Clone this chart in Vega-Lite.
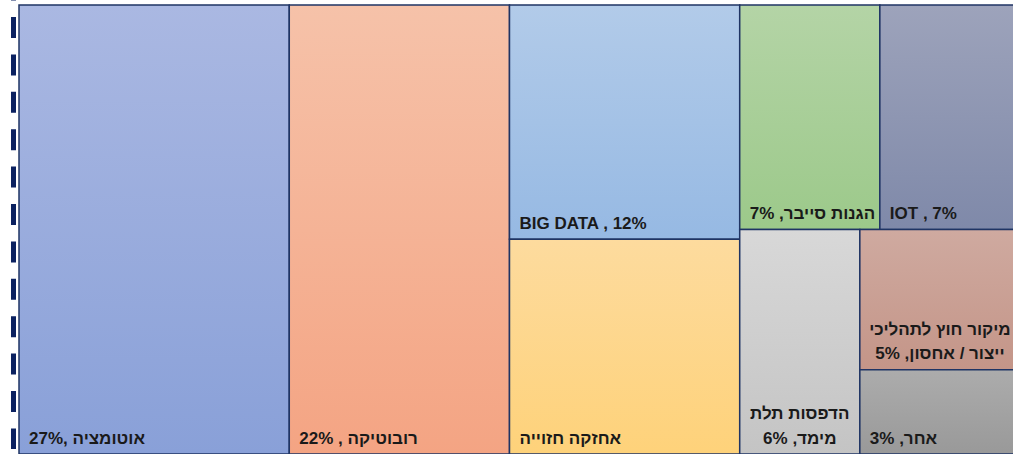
{
  "$schema": "https://vega.github.io/schema/vega-lite/v6.json",
  "width": 1001,
  "height": 449,
  "autosize": {"type": "none"},
  "padding": {"left": 19, "top": 5, "right": 0, "bottom": 0},
  "background": "white",
  "config": {"view": {"stroke": null}},
  "layer": [
    {
      "data": {"values": [{"line": "frame"}]},
      "mark": {"type": "rule", "stroke": "#0b2160", "strokeWidth": 5, "strokeDash": [21, 16.4]},
      "encoding": {
        "x": {"datum": -0.55, "type": "quantitative", "scale": {"domain": [0, 100]}, "axis": null},
        "y": {"datum": -5.66, "type": "quantitative", "scale": {"domain": [0, 100], "reverse": true}, "axis": null},
        "y2": {"datum": 98.9}
      }
    },
    {
      "data": {"name": "tree"},
      "transform": [
        {"joinaggregate": [{"op": "sum", "field": "value", "as": "T"}]},
        {"joinaggregate": [{"op": "sum", "field": "value", "as": "S1"}], "groupby": ["g1"]},
        {"window": [{"op": "sum", "field": "value", "as": "C1"}], "sort": [{"field": "g1"}, {"field": "g2"}, {"field": "g3"}, {"field": "g4"}], "frame": [null, 0]},
        {"joinaggregate": [{"op": "max", "field": "C1", "as": "E1"}], "groupby": ["g1"]},
        {"joinaggregate": [{"op": "sum", "field": "value", "as": "S2"}], "groupby": ["g1", "g2"]},
        {"window": [{"op": "sum", "field": "value", "as": "C2"}], "groupby": ["g1"], "sort": [{"field": "g2"}, {"field": "g3"}, {"field": "g4"}], "frame": [null, 0]},
        {"joinaggregate": [{"op": "max", "field": "C2", "as": "E2"}], "groupby": ["g1", "g2"]},
        {"joinaggregate": [{"op": "sum", "field": "value", "as": "S3"}], "groupby": ["g1", "g2", "g3"]},
        {"window": [{"op": "sum", "field": "value", "as": "C3"}], "groupby": ["g1", "g2"], "sort": [{"field": "g3"}, {"field": "g4"}], "frame": [null, 0]},
        {"joinaggregate": [{"op": "max", "field": "C3", "as": "E3"}], "groupby": ["g1", "g2", "g3"]},
        {"joinaggregate": [{"op": "sum", "field": "value", "as": "S4"}], "groupby": ["g1", "g2", "g3", "g4"]},
        {"window": [{"op": "sum", "field": "value", "as": "C4"}], "groupby": ["g1", "g2", "g3"], "sort": [{"field": "g4"}], "frame": [null, 0]},
        {"joinaggregate": [{"op": "max", "field": "C4", "as": "E4"}], "groupby": ["g1", "g2", "g3", "g4"]},
        {"calculate": "100 * (datum.E1 - datum.S1) / datum.T", "as": "x0"},
        {"calculate": "100 * datum.E1 / datum.T", "as": "x1"},
        {"calculate": "100 * (datum.E2 - datum.S2) / datum.S1", "as": "y0"},
        {"calculate": "100 * datum.E2 / datum.S1", "as": "y1"},
        {"calculate": "datum.x0 + (datum.x1 - datum.x0) * (datum.E3 - datum.S3) / datum.S2", "as": "xa"},
        {"calculate": "datum.x0 + (datum.x1 - datum.x0) * datum.E3 / datum.S2", "as": "xb"},
        {"calculate": "datum.y0 + (datum.y1 - datum.y0) * (datum.E4 - datum.S4) / datum.S3", "as": "ya"},
        {"calculate": "datum.y0 + (datum.y1 - datum.y0) * datum.E4 / datum.S3", "as": "yb"},
        {"calculate": "(datum.xa + datum.xb) / 2", "as": "xm"}
      ],
      "layer": [
        {
          "mark": {"type": "rect", "stroke": "#1f3464", "strokeWidth": 1.5},
          "encoding": {
            "x": {"field": "xa", "type": "quantitative", "scale": {"domain": [0, 100]}, "axis": null},
            "x2": {"field": "xb"},
            "y": {"field": "ya", "type": "quantitative", "scale": {"domain": [0, 100], "reverse": true}, "axis": null},
            "y2": {"field": "yb"},
            "fill": {
              "condition": [
                {"test": "datum.id === 'automation'", "value": {"gradient": "linear", "x1": 0, "y1": 0, "x2": 0, "y2": 1, "stops": [{"offset": 0, "color": "#aab8e2"}, {"offset": 1, "color": "#89a0d8"}]}},
                {"test": "datum.id === 'robotics'", "value": {"gradient": "linear", "x1": 0, "y1": 0, "x2": 0, "y2": 1, "stops": [{"offset": 0, "color": "#f6c2a9"}, {"offset": 1, "color": "#f4a483"}]}},
                {"test": "datum.id === 'bigdata'", "value": {"gradient": "linear", "x1": 0, "y1": 0, "x2": 0, "y2": 1, "stops": [{"offset": 0, "color": "#b2cbe9"}, {"offset": 1, "color": "#96b9e3"}]}},
                {"test": "datum.id === 'maintenance'", "value": {"gradient": "linear", "x1": 0, "y1": 0, "x2": 0, "y2": 1, "stops": [{"offset": 0, "color": "#fddb9e"}, {"offset": 1, "color": "#fed27a"}]}},
                {"test": "datum.id === 'cyber'", "value": {"gradient": "linear", "x1": 0, "y1": 0, "x2": 0, "y2": 1, "stops": [{"offset": 0, "color": "#b4d4a6"}, {"offset": 1, "color": "#9cc98a"}]}},
                {"test": "datum.id === 'iot'", "value": {"gradient": "linear", "x1": 0, "y1": 0, "x2": 0, "y2": 1, "stops": [{"offset": 0, "color": "#9da3bb"}, {"offset": 1, "color": "#7f89a9"}]}},
                {"test": "datum.id === 'print3d'", "value": {"gradient": "linear", "x1": 0, "y1": 0, "x2": 0, "y2": 1, "stops": [{"offset": 0, "color": "#d8d8d8"}, {"offset": 1, "color": "#c4c4c4"}]}},
                {"test": "datum.id === 'outsourcing'", "value": {"gradient": "linear", "x1": 0, "y1": 0, "x2": 0, "y2": 1, "stops": [{"offset": 0, "color": "#cfaaa0"}, {"offset": 1, "color": "#c49588"}]}}
              ],
              "value": {"gradient": "linear", "x1": 0, "y1": 0, "x2": 0, "y2": 1, "stops": [{"offset": 0, "color": "#acacac"}, {"offset": 1, "color": "#999999"}]}
            }
          }
        },
        {
          "transform": [{"filter": "!isArray(datum.label)"}],
          "mark": {"type": "text", "font": "Liberation Sans", "fontSize": 17, "fontWeight": "bold", "fill": "#1a1a1a", "align": "left", "baseline": "bottom", "dx": 10, "dy": -6.5},
          "encoding": {
            "x": {"field": "xa", "type": "quantitative", "scale": {"domain": [0, 100]}, "axis": null},
            "y": {"field": "yb", "type": "quantitative", "scale": {"domain": [0, 100], "reverse": true}, "axis": null},
            "text": {"field": "label", "type": "nominal"}
          }
        },
        {
          "transform": [{"filter": "isArray(datum.label)"}],
          "mark": {"type": "text", "font": "Liberation Sans", "fontSize": 17, "fontWeight": "bold", "fill": "#1a1a1a", "align": "center", "baseline": "bottom", "dy": -31, "lineHeight": 24.5},
          "encoding": {
            "x": {"field": "xm", "type": "quantitative", "scale": {"domain": [0, 100]}, "axis": null},
            "y": {"field": "yb", "type": "quantitative", "scale": {"domain": [0, 100], "reverse": true}, "axis": null},
            "text": {"field": "label", "type": "nominal"}
          }
        }
      ]
    }
  ],
  "datasets": {
    "tree": [
      {"id": "automation", "label": "27%, אוטומציה", "value": 27, "g1": 1, "g2": 1, "g3": 1, "g4": 1},
      {"id": "robotics", "label": "22% , רובוטיקה", "value": 22, "g1": 2, "g2": 1, "g3": 1, "g4": 1},
      {"id": "bigdata", "label": "BIG DATA , 12%", "value": 12, "g1": 3, "g2": 1, "g3": 1, "g4": 1},
      {"id": "maintenance", "label": "אחזקה חזוייה", "value": 11, "g1": 3, "g2": 2, "g3": 1, "g4": 1},
      {"id": "cyber", "label": "\u202bהגנות סייבר, 7%\u202c", "value": 7, "g1": 4, "g2": 1, "g3": 1, "g4": 1},
      {"id": "iot", "label": "IOT , 7%", "value": 7, "g1": 4, "g2": 1, "g3": 2, "g4": 1},
      {"id": "print3d", "label": ["הדפסות תלת", "\u202bמימד, 6%\u202c"], "value": 6, "g1": 4, "g2": 2, "g3": 1, "g4": 1},
      {"id": "outsourcing", "label": ["מיקור חוץ לתהליכי", "\u202bייצור / אחסון, 5%\u202c"], "value": 5, "g1": 4, "g2": 2, "g3": 2, "g4": 1},
      {"id": "other", "label": "\u202bאחר, 3%\u202c", "value": 3, "g1": 4, "g2": 2, "g3": 2, "g4": 2}
    ]
  }
}
